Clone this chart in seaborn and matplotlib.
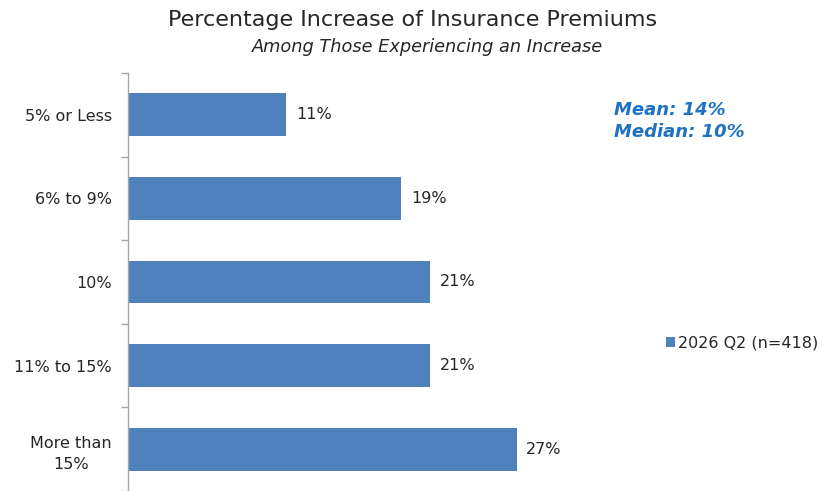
import matplotlib
matplotlib.use("Agg")
import matplotlib.pyplot as plt
import seaborn as sns
import pandas as pd
from matplotlib.patches import Patch

categories = ["5% or Less", "6% to 9%", "10%", "11% to 15%", "More than\n15%"]
values = [11, 19, 21, 21, 27]
series_name = "2026 Q2 (n=418)"
stats_lines = ["Mean: 14%", "Median: 10%"]

bar_color = "#4F81BD"
text_color = "#262626"
stat_color = "#1F72C2"

sns.set_theme(style="white")
plt.rcParams["font.family"] = ["DejaVu Sans"]

df = pd.DataFrame({"category": categories, "value": values})

fig = plt.figure(figsize=(8.24, 4.91), dpi=100)
ax = fig.add_axes([128 / 824, 0.0, 472 / 824, 418 / 491])

sns.barplot(data=df, x="value", y="category", orient="h", color=bar_color,
            width=0.51, saturation=1, ax=ax, edgecolor="none")

ax.set_xlim(0, 32.8)
ax.set_ylim(4.43, -0.5)
ax.set_xlabel("")
ax.set_ylabel("")
ax.set_xticks([])
for s in ["top", "right", "bottom"]:
    ax.spines[s].set_visible(False)
ax.spines["left"].set_color("#A6A6A6")
ax.spines["left"].set_linewidth(1.0)

ax.set_yticks(range(len(categories)))
ax.set_yticklabels(categories, fontsize=11.5, color=text_color,
                   multialignment="center", linespacing=1.55)
ax.set_yticks([i - 0.5 for i in range(len(categories) + 1)], minor=True)
ax.tick_params(axis="y", which="major", left=False, length=0, pad=11.5)
ax.tick_params(axis="y", which="minor", left=True, length=5, color="#A6A6A6",
               width=1, direction="out")

for i, v in enumerate(values):
    ax.annotate(f"{v}%", xy=(v, i), xytext=(7, 0), textcoords="offset points",
                va="center", ha="left", fontsize=11.5, color=text_color)

fig.text(413 / 824, 1 - 20 / 491, "Percentage Increase of Insurance Premiums",
         ha="center", va="center", fontsize=16, color=text_color)
fig.text(428 / 824, 1 - 47 / 491, "Among Those Experiencing an Increase",
         ha="center", va="center", fontsize=12.8, style="italic", color=text_color)

fig.text(614 / 824, 1 - 110 / 491, stats_lines[0], ha="left", va="center",
         fontsize=13, fontweight="bold", style="italic", color=stat_color)
fig.text(614 / 824, 1 - 132 / 491, stats_lines[1], ha="left", va="center",
         fontsize=13, fontweight="bold", style="italic", color=stat_color)

handle = Patch(facecolor=bar_color, edgecolor="none", label=series_name)
fig.legend(handles=[handle], loc="center left", bbox_to_anchor=(660 / 824, 1 - 343 / 491),
           frameon=False, fontsize=11.5, handlelength=0.55, handleheight=0.55,
           handletextpad=0.2, labelcolor=text_color, borderaxespad=0)

fig.savefig("out.png", dpi=100)
